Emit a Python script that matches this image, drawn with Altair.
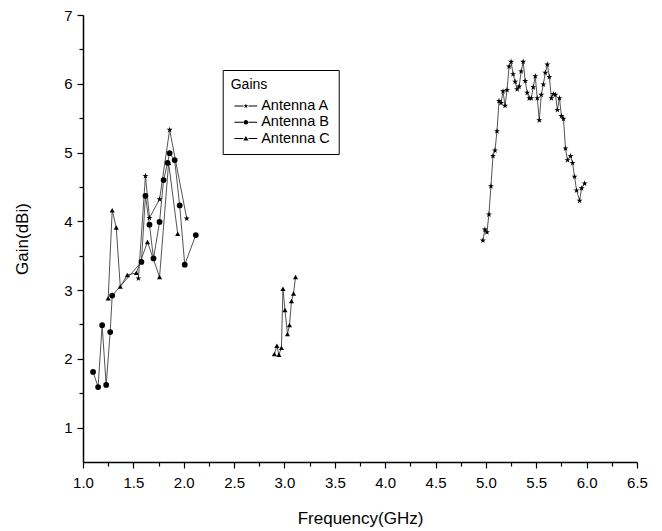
import altair as alt
import pandas as pd

# ---------------- data ----------------
series_names = ["Antenna A", "Antenna B", "Antenna C"]

# Antenna A (stars) - low band and high band
a_low_freq = [1.55, 1.62, 1.66, 1.76, 1.86, 2.03]
a_low_gain = [3.17, 4.66, 4.05, 4.32, 5.33, 4.04]
a_high_freq = [4.97, 4.99, 5.01, 5.03, 5.05, 5.07, 5.09, 5.11, 5.13, 5.15,
               5.17, 5.19, 5.21, 5.23, 5.25, 5.27, 5.29, 5.31, 5.33, 5.35,
               5.37, 5.39, 5.41, 5.43, 5.45, 5.47, 5.49, 5.51, 5.53, 5.55,
               5.57, 5.59, 5.61, 5.63, 5.65, 5.67, 5.69, 5.71, 5.73, 5.75,
               5.77, 5.79, 5.81, 5.84, 5.86, 5.88, 5.90, 5.93, 5.95, 5.98]
a_high_gain = [3.72, 3.88, 3.84, 4.10, 4.51, 4.95, 5.03, 5.31, 5.75, 5.72,
               5.89, 5.68, 5.91, 6.25, 6.32, 6.14, 6.03, 5.92, 5.96, 6.18,
               6.32, 6.04, 5.87, 5.79, 5.79, 5.95, 6.11, 5.79, 5.47, 5.84,
               5.99, 6.16, 6.28, 6.10, 5.79, 5.85, 5.84, 5.62, 5.79, 5.53,
               5.49, 5.06, 4.89, 4.95, 4.85, 4.65, 4.45, 4.30, 4.48, 4.55]

# Antenna B (circles)
b_freq = [1.10, 1.15, 1.19, 1.23, 1.27, 1.29, 1.58, 1.62, 1.66, 1.70,
          1.76, 1.80, 1.84, 1.86, 1.91, 1.96, 2.01, 2.12]
b_gain = [1.81, 1.59, 2.49, 1.62, 2.39, 2.92, 3.41, 4.37, 3.95, 3.46,
          3.99, 4.60, 4.85, 4.99, 4.89, 4.23, 3.37, 3.80]

# Antenna C (triangles) - low band and 3 GHz band
c_low_freq = [1.25, 1.29, 1.33, 1.37, 1.44, 1.53, 1.64, 1.76, 1.85, 1.94]
c_low_gain = [2.88, 4.16, 3.91, 3.05, 3.22, 3.25, 3.70, 3.19, 4.85, 3.82]
c_mid_freq = [2.90, 2.925, 2.945, 2.97, 2.985, 3.005, 3.03, 3.05, 3.07, 3.09, 3.11]
c_mid_gain = [2.07, 2.19, 2.06, 2.16, 3.02, 2.71, 2.36, 2.49, 2.84, 2.95, 3.19]

x_major = [1.0, 1.5, 2.0, 2.5, 3.0, 3.5, 4.0, 4.5, 5.0, 5.5, 6.0, 6.5]
x_minor = [1.25, 1.75, 2.25, 2.75, 3.25, 3.75, 4.25, 4.75, 5.25, 5.75, 6.25]
y_major = [1, 2, 3, 4, 5, 6, 7]
y_minor = [1.5, 2.5, 3.5, 4.5, 5.5, 6.5]

rows = []
for name, seg, fs, gs in [
    ("Antenna A", "A1", a_low_freq, a_low_gain),
    ("Antenna A", "A2", a_high_freq, a_high_gain),
    ("Antenna B", "B1", b_freq, b_gain),
    ("Antenna C", "C1", c_low_freq, c_low_gain),
    ("Antenna C", "C2", c_mid_freq, c_mid_gain),
]:
    for f, g in zip(fs, gs):
        rows.append({"series": name, "seg": seg, "freq": f, "gain": g})
df = pd.DataFrame(rows)

# ---------------- symbol shapes ----------------
STAR_PTS = [(0, -1), (0.2245, -0.309), (0.951, -0.309), (0.363, 0.118),
            (0.588, 0.809), (0, 0.382), (-0.588, 0.809), (-0.363, 0.118),
            (-0.951, -0.309), (-0.2245, -0.309)]


def star_path(r, cx=0.0):
    return "M" + "L".join(f"{cx + x*r:.3f},{y*r:.3f}" for x, y in STAR_PTS) + "Z"


def bar(x0, x1, h):
    return f"M{x0:.3f},{-h:.3f}L{x1:.3f},{-h:.3f}L{x1:.3f},{h:.3f}L{x0:.3f},{h:.3f}Z"


STAR = star_path(1.0)

# legend symbol: "—✶—" (units of sqrt(symbolSize)/2 pixels)
LEG_SIZE = 250
U = (LEG_SIZE ** 0.5) / 2.0
C = 6.2 / U                     # symbol centre shift
LINES = bar(-5.3 / U, 3.6 / U, 0.5 / U) + bar(8.8 / U, 17.5 / U, 0.5 / U)
LEG_A = star_path(2.6 / U, C) + LINES
r = 2.3 / U
LEG_B = (f"M{C - r:.3f},0A{r:.3f},{r:.3f} 0 1,0 {C + r:.3f},0"
         f"A{r:.3f},{r:.3f} 0 1,0 {C - r:.3f},0Z") + LINES
t = 2.6 / U
LEG_C = (f"M{C:.3f},{-t:.3f}L{C + t:.3f},{0.75 * t:.3f}L{C - t:.3f},{0.75 * t:.3f}Z"
         + LINES)

FONT = "Liberation Sans"

xscale = alt.Scale(domain=[1.0, 6.5], nice=False, zero=False)
yscale = alt.Scale(domain=[0.5, 7.0], nice=False, zero=False)

base = alt.Chart(df)

lines = base.mark_line(color="#404040", strokeWidth=0.9).encode(
    x=alt.X("freq:Q", scale=xscale,
            axis=alt.Axis(values=x_major, format=".1f", title="Frequency(GHz)",
                          orient="bottom", tickSize=6, tickColor="black",
                          domainColor="black", domainWidth=1.5, tickWidth=1.2,
                          labelFont=FONT, labelFontSize=15, labelColor="black",
                          labelPadding=7, labelFlush=False,
                          titleFont=FONT, titleFontSize=17, titleFontWeight="normal",
                          titleColor="black", titlePadding=20, grid=False)),
    y=alt.Y("gain:Q", scale=yscale,
            axis=alt.Axis(values=y_major, format="d", title="Gain(dBi)",
                          orient="left", tickSize=6, tickColor="black",
                          domainColor="black", domainWidth=1.5, tickWidth=1.2,
                          labelFont=FONT, labelFontSize=15, labelColor="black",
                          labelPadding=5, labelFlush=False,
                          titleFont=FONT, titleFontSize=17, titleFontWeight="normal",
                          titleColor="black", titlePadding=32, grid=False)),
    detail="seg:N",
)

points = base.mark_point(filled=True, color="black", opacity=1).encode(
    x=alt.X("freq:Q", scale=xscale, axis=None),
    y=alt.Y("gain:Q", scale=yscale, axis=None),
    shape=alt.Shape("series:N",
                    scale=alt.Scale(domain=series_names,
                                    range=[STAR, "circle", "triangle-up"]),
                    legend=None),
    size=alt.Size("series:N",
                  scale=alt.Scale(domain=series_names, range=[40, 26, 36]),
                  legend=None),
)

extras = base.transform_filter("false").mark_point(
    filled=True, color="black", opacity=1
).encode(
    x=alt.X("freq:Q", scale=xscale,
            axis=alt.Axis(values=x_minor, labels=False, domain=False, title=None,
                          orient="bottom", tickSize=4, tickColor="black",
                          tickWidth=1.2, grid=False)),
    y=alt.Y("gain:Q", scale=yscale,
            axis=alt.Axis(values=y_minor, labels=False, domain=False, title=None,
                          orient="left", tickSize=4, tickColor="black",
                          tickWidth=1.2, grid=False)),
    shape=alt.Shape("series:N",
                    scale=alt.Scale(domain=series_names, range=[LEG_A, LEG_B, LEG_C]),
                    legend=alt.Legend(title="Gains", orient="none",
                                      legendX=139.7, legendY=55,
                                      strokeColor="black", fillColor="white",
                                      padding=8, titleFont=FONT, titleFontSize=14,
                                      titleFontWeight="normal", titleColor="black",
                                      titlePadding=5, labelFont=FONT,
                                      labelFontSize=14.5, labelColor="black",
                                      symbolSize=LEG_SIZE, labelOffset=12.5,
                                      rowPadding=0.3)),
)

chart = alt.layer(lines, points, extras).resolve_scale(
    shape="independent"
).resolve_axis(
    x="independent", y="independent"
).properties(
    width=554, height=447,
    padding={"left": 83, "top": 15, "right": 25, "bottom": 69},
    autosize=alt.AutoSizeParams(type="none"),
    background="white",
).configure_view(stroke=None)

chart.save("out.html", embed_options={"renderer": "svg", "actions": False})
